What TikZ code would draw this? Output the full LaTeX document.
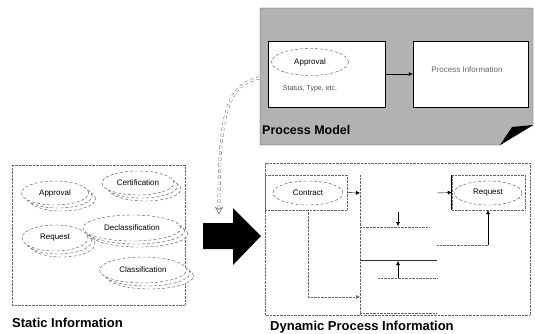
\documentclass[tikz,border=0pt]{standalone}
\usepackage{fontspec}
\setmainfont{Liberation Sans}
\usetikzlibrary{shapes.geometric,arrows.meta}
\tikzset{
  infoell/.style={ellipse, draw=black!70, densely dashed, fill=white, inner sep=0pt, font=\fontsize{8}{9}\selectfont},
  dotbox/.style={draw=black!60, densely dotted},
  dotline/.style={draw=black!60, densely dotted},
  tip/.style={-{Latex[length=4pt,width=4pt]}},
  title/.style={font=\fontsize{13}{14}\selectfont\bfseries, inner sep=0pt, anchor=west}
}
\begin{document}
\begin{tikzpicture}[x=1pt,y=-1pt]
\useasboundingbox (0,0) rectangle (535,333);

\fill[black!30] (260,8) -- (533,8) -- (533,125) -- (500,145) -- (260,145) -- cycle;
\draw[black!70] (260,8) -- (533,8) -- (533,125) -- (500,145) -- (260,145) -- cycle;
\fill[black] (500,145) -- (512,127) -- (533,125) -- cycle;
\node[title, font=\fontsize{12.5}{13}\selectfont\bfseries] (pmtitle) at (262,130){Process Model};

\node[rectangle, draw, fill=white, minimum width=117, minimum height=66] (sttype) at (326.5,74){};
\node[rectangle, draw, fill=white, minimum width=115, minimum height=66] (procinfo) at (470.5,74){};
\node[infoell, minimum width=77, minimum height=27] (pmappr) at (310,62){Approval};
\node[font=\fontsize{7}{8}\selectfont, black!70] (sttext) at (310,89){Status, Type, etc.};
\node[font=\fontsize{8}{9}\selectfont, black!60] (pitext) at (467,70){Process Information};
\draw[tip] (sttype) -- (procinfo);

\coordinate (pmleft) at (259,78);
\coordinate (fldown) at (219,214);
\draw[black!70, dashed, double=white, double distance=2pt, -{Stealth[open,length=7pt,width=8pt]}]
  (pmleft) .. controls (225,85) and (219,120) .. (fldown);

\draw[dotbox] (12,165) rectangle (185,305);
\node[title] (stitle) at (12,323){Static Information};

\node[infoell, minimum width=67, minimum height=24] (appr3) at (62,199){};
\node[infoell, minimum width=67, minimum height=24] (appr2) at (58.5,196){};
\node[infoell, minimum width=67, minimum height=24] (appr) at (55,193){Approval};
\node[infoell, minimum width=72, minimum height=24] (cert3) at (145,189){};
\node[infoell, minimum width=72, minimum height=24] (cert2) at (141.5,186){};
\node[infoell, minimum width=72, minimum height=24] (cert) at (138,183){Certification};
\node[infoell, minimum width=98, minimum height=26] (decl3) at (139,234){};
\node[infoell, minimum width=98, minimum height=26] (decl2) at (135.5,231){};
\node[infoell, minimum width=98, minimum height=26] (decl) at (132,228){Declassification};
\node[infoell, minimum width=66, minimum height=26] (req3) at (62,244){};
\node[infoell, minimum width=66, minimum height=26] (req2) at (58.5,241){};
\node[infoell, minimum width=66, minimum height=26] (req) at (55,238){Request};
\node[infoell, minimum width=87, minimum height=26] (clas3) at (150,276){};
\node[infoell, minimum width=87, minimum height=26] (clas2) at (146.5,273){};
\node[infoell, minimum width=87, minimum height=26] (clas) at (143,270){Classification};

\fill[black] (203,223) -- (233,223) -- (233,208) -- (261,236) -- (233,265) -- (233,249) -- (203,249) -- cycle;

\draw[dotbox] (265,163) rectangle (530,315);
\node[title] (dtitle) at (270,327){Dynamic Process Information};

\node[rectangle, dotbox, minimum width=82, minimum height=35] (cbox) at (306,192.5){};
\node[infoell, minimum width=70, minimum height=24] (contract) at (308,193){Contract};
\node[rectangle, dotbox, minimum width=73, minimum height=35] (rbox) at (488.5,192.5){};
\draw[black, thick] (rbox.north west) -- (rbox.south west);
\node[infoell, minimum width=68, minimum height=24] (request) at (488,193){Request};

\coordinate (c1) at (360,193);
\coordinate (c2) at (437,193);
\coordinate (vtop) at (360,175);
\coordinate (vbot) at (360,315);
\coordinate (cdown) at (308,297);
\coordinate (cend) at (360,297);
\coordinate (l1a) at (360,227);
\coordinate (l1b) at (430,227);
\coordinate (a1) at (398,212);
\coordinate (a1e) at (398,226);
\coordinate (l2a) at (360,260);
\coordinate (l2b) at (437,260);
\coordinate (a2) at (398,278);
\coordinate (a2e) at (398,261);
\coordinate (l3a) at (378,278);
\coordinate (l3b) at (437,278);
\coordinate (l4a) at (437,245);
\coordinate (l4b) at (488,245);
\coordinate (l5a) at (360,313);
\coordinate (l5b) at (437,313);

\draw[tip] (cbox.east) -- (c1);
\draw[tip] (c2) -- (rbox.west);
\draw[dotline] (vtop) -- (vbot);
\draw[dotline, tip] (cbox.south -| contract) -- (cdown) -- (cend);
\draw[dotline] (l1a) -- (l1b);
\draw[tip] (a1) -- (a1e);
\draw[black!80] (l2a) -- (l2b);
\draw[tip] (a2) -- (a2e);
\draw[dotline] (l3a) -- (l3b);
\draw[dotline] (l4a) -- (l4b);
\draw[tip] (l4b) -- (rbox.south -| request);
\draw[dotline] (l5a) -- (l5b);

\end{tikzpicture}
\end{document}
